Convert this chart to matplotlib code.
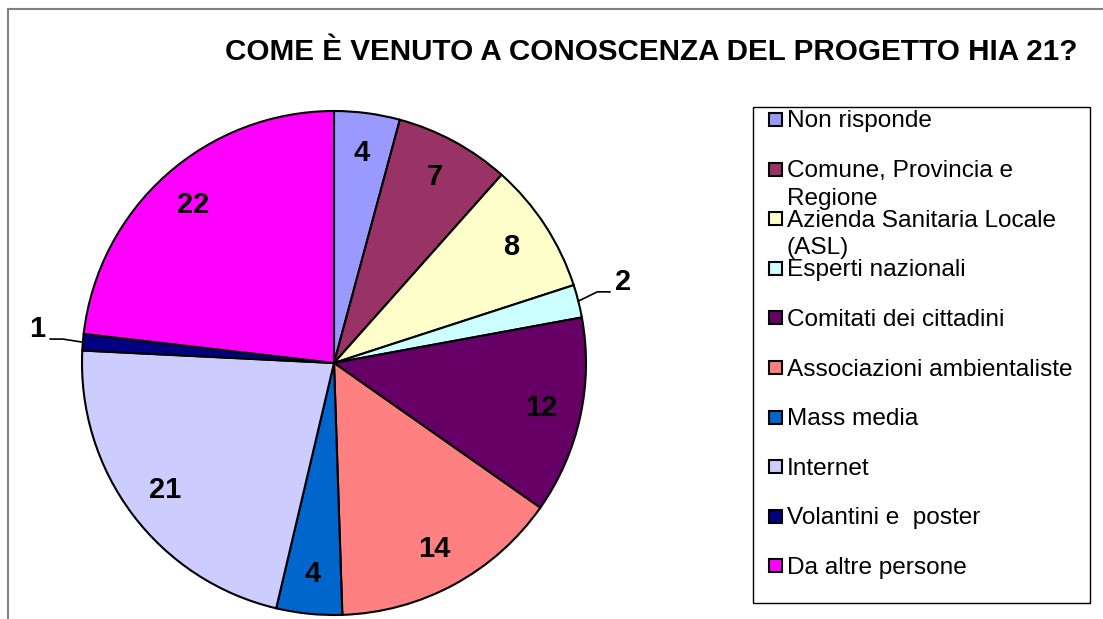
import numpy as np
import matplotlib
matplotlib.use("Agg")
import matplotlib.pyplot as plt
from matplotlib.patches import Rectangle

plt.rcParams['font.family'] = ['Liberation Sans', 'DejaVu Sans']

title = "COME È VENUTO A CONOSCENZA DEL PROGETTO HIA 21?"
categories = ["Non risponde", "Comune, Provincia e\nRegione",
              "Azienda Sanitaria Locale\n(ASL)", "Esperti nazionali",
              "Comitati dei cittadini", "Associazioni ambientaliste",
              "Mass media", "Internet", "Volantini e  poster",
              "Da altre persone"]
counts = [4, 7, 8, 2, 12, 14, 4, 21, 1, 22]
colors = ["#9999FF", "#993366", "#FFFFCC", "#CCFFFF", "#660066",
          "#FF8080", "#0066CC", "#CCCCFF", "#000080", "#FF00FF"]

W, H = 1103, 619
fig = plt.figure(figsize=(W / 100, H / 100), dpi=100)


def fx(px):
    return px / W


def fy(py):
    return 1 - py / H


# chart area frame (runs off the right and bottom edges)
fig.patches.append(Rectangle((fx(8), -0.05), 1.1, fy(9) + 0.05,
                             transform=fig.transFigure, fill=False,
                             edgecolor='#808080', lw=1.5))

fig.text(fx(651), fy(52), title, fontsize=21.3, fontweight='bold',
         ha='center', va='center')

# pie
cx, cy, R = 334, 363, 252
ax = fig.add_axes([fx(cx - R), fy(cy + R), 2 * R / W, 2 * R / H])
wedges, texts = ax.pie(counts, colors=colors, startangle=90,
                       counterclock=False,
                       labels=[str(c) for c in counts], labeldistance=0.84,
                       wedgeprops=dict(edgecolor='black', linewidth=1.5),
                       textprops=dict(fontsize=21, fontweight='bold',
                                      ha='center', va='center'))
ax.set_xlim(-1, 1)
ax.set_ylim(-1, 1)

# small slices get outside labels with leader lines
for w, t, c in zip(wedges, texts, counts):
    if c > 2:
        continue
    a = np.deg2rad((w.theta1 + w.theta2) / 2)
    side = np.sign(np.cos(a))
    x0, y0 = np.cos(a), np.sin(a)
    xa, ya = 1.15 * np.cos(a), 1.15 * np.sin(a)
    x1 = xa - side * 0.07
    x2 = xa - side * 0.02
    ax.plot([x0, x1, x2], [y0, ya, ya], color='black', lw=1.2,
            clip_on=False)
    t.set_position((xa, ya + 0.04))
    t.set_ha('left' if side > 0 else 'right')

# legend
fig.patches.append(Rectangle((fx(753), fy(603)), (1090 - 753) / W,
                             (603 - 107) / H, transform=fig.transFigure,
                             fill=False, edgecolor='black', lw=1))
for i, (lab, col) in enumerate(zip(categories, colors)):
    y = 119.5 + i * 49.6
    fig.patches.append(Rectangle((fx(769), fy(y + 6.5)), 13 / W, 13 / H,
                                 transform=fig.transFigure, facecolor=col,
                                 edgecolor='black', lw=1.5))
    for k, line in enumerate(lab.split('\n')):
        fig.text(fx(787), fy(y + 8 + k * 27.5), line, fontsize=17.6,
                 ha='left', va='baseline')

fig.savefig("out.png", dpi=100)
